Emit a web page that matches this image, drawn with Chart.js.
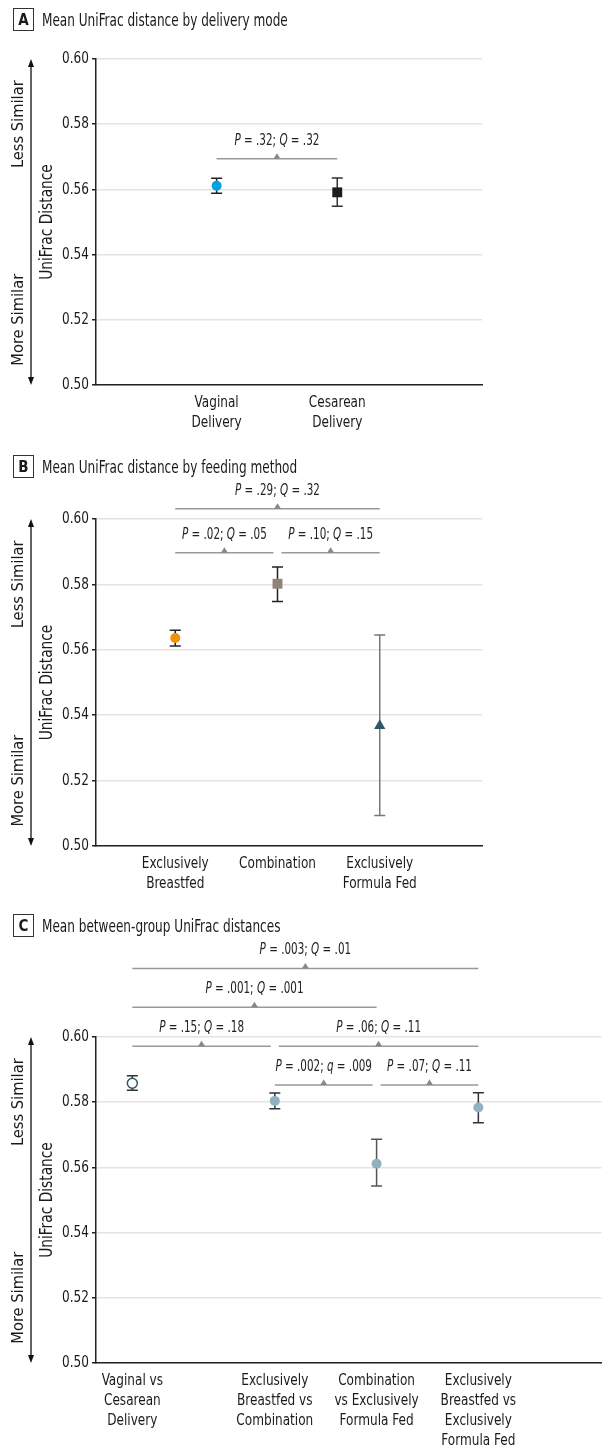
<!DOCTYPE html>
<html>
<head>
<meta charset="utf-8">
<script src="https://cdn.jsdelivr.net/npm/chart.js@4.4.0/dist/chart.umd.min.js"></script>
<style>
  body { margin: 0; background: #fff; width: 608px; height: 1449px; position: relative; overflow: hidden;
         font-family: "Liberation Sans Narrow", "DejaVu Sans Condensed", sans-serif; color: #1a1a1a; }
  canvas { position: absolute; left: 0; }
  .head { position: absolute; left: 13px; display: flex; align-items: center; z-index: 2; }
  .tag { width: 21px; height: 23px; box-sizing: border-box; border: 1px solid #333; font-weight: bold;
         font-size: 15px; display: flex; align-items: center; justify-content: center; font-family: "DejaVu Sans Condensed", sans-serif; }
  .title { margin-left: 8px; font-size: 17px; white-space: nowrap; transform: scaleX(0.79); transform-origin: left center; }
</style>
</head>
<body>
<div class="head" style="top:8px"><div class="tag">A</div><div class="title">Mean UniFrac distance by delivery mode</div></div>
<div class="head" style="top:455px"><div class="tag">B</div><div class="title">Mean UniFrac distance by feeding method</div></div>
<div class="head" style="top:914px"><div class="tag">C</div><div class="title">Mean between-group UniFrac distances</div></div>
<canvas id="chartA" width="608" height="450" style="top:0"></canvas>
<canvas id="chartB" width="608" height="450" style="top:450px"></canvas>
<canvas id="chartC" width="608" height="549" style="top:900px"></canvas>
<script>
const FONT = '"Liberation Sans Narrow", "DejaVu Sans Condensed", sans-serif';

const yTicks = [0.50, 0.52, 0.54, 0.56, 0.58, 0.60];

// A - delivery mode
const catsA = [['Vaginal', 'Delivery'], ['Cesarean', 'Delivery']];
const slotsA = [1, 2];
const meanA = [0.5611, 0.5591];
const lowA = [0.5588, 0.5548];
const highA = [0.5634, 0.5635];
const bracketsA = [[0, 1, 0.5694, 'P = .32; Q = .32']];

// B - feeding method
const catsB = [['Exclusively', 'Breastfed'], 'Combination', ['Exclusively', 'Formula Fed']];
const slotsB = [1, 2, 3];
const meanB = [0.5636, 0.5802, 0.5368];
const lowB = [0.5612, 0.5748, 0.5093];
const highB = [0.5660, 0.5853, 0.5645];
const bracketsB = [
  [0, 2, 0.6031, 'P = .29; Q = .32'],
  [0, 1, 0.5897, 'P = .02; Q = .05'],
  [1, 2, 0.5897, 'P = .10; Q = .15']
];

// C - between-group distances
const catsC = [
  ['Vaginal vs', 'Cesarean', 'Delivery'],
  ['Exclusively', 'Breastfed vs', 'Combination'],
  ['Combination', 'vs Exclusively', 'Formula Fed'],
  ['Exclusively', 'Breastfed vs', 'Exclusively', 'Formula Fed']
];
const slotsC = [0.6, 2, 3, 4];
const meanC = [0.5858, 0.5804, 0.5611, 0.5784];
const lowC = [0.5837, 0.5780, 0.5543, 0.5737];
const highC = [0.5881, 0.5828, 0.5686, 0.5829];
const bracketsC = [
  [0, 3, 0.6210, 'P = .003; Q = .01'],
  [0, 2, 0.6091, 'P = .001; Q = .001'],
  [0, 1, 0.5972, 'P = .15; Q = .18'],
  [1, 3, 0.5972, 'P = .06; Q = .11'],
  [1, 2, 0.5853, 'P = .002; q = .009'],
  [2, 3, 0.5853, 'P = .07; Q = .11']
];

// narrow text: the source uses a condensed face, so squeeze horizontally
function squeezed(ctx, text, x, y, font, align, sx) {
  ctx.save();
  ctx.font = font;
  ctx.textAlign = align;
  ctx.textBaseline = 'middle';
  ctx.translate(x, y);
  ctx.scale(sx, 1);
  ctx.fillText(text, 0, 0);
  ctx.restore();
}

function makeDecor(cfg) {
  return {
    id: 'decor',
    beforeDatasetsDraw(chart) {
      const { ctx, scales: { x, y } } = chart;
      ctx.save();
      ctx.lineWidth = 1.5;
      cfg.slots.forEach((s, i) => {
        const px = x.getPixelForValue(s);
        const y1 = y.getPixelForValue(cfg.low[i]);
        const y2 = y.getPixelForValue(cfg.high[i]);
        ctx.strokeStyle = cfg.errColor[i];
        ctx.beginPath();
        ctx.moveTo(px, y1); ctx.lineTo(px, y2);
        ctx.moveTo(px - 5.5, y1); ctx.lineTo(px + 5.5, y1);
        ctx.moveTo(px - 5.5, y2); ctx.lineTo(px + 5.5, y2);
        ctx.stroke();
      });
      ctx.restore();
    },
    afterDraw(chart) {
      const { ctx, chartArea: { top, bottom, left }, scales: { x, y } } = chart;
      ctx.save();

      // tick labels
      ctx.fillStyle = '#1a1a1a';
      y.ticks.forEach((t, i) => {
        squeezed(ctx, t.label, left - 7, y.getPixelForTick(i), '16px ' + FONT, 'right', 0.84);
      });
      x.ticks.forEach((t, i) => {
        const px = x.getPixelForTick(i);
        [].concat(t.label).forEach((ln, k) => {
          squeezed(ctx, ln, px, bottom + 18 + 20 * k, '16px ' + FONT, 'center', 0.84);
        });
      });

      // significance brackets
      cfg.brackets.forEach(br => {
        const [i, j, lvl, label] = br;
        const ly = y.getPixelForValue(lvl);
        const shared = k => cfg.brackets.some(b => b !== br && b[2] === lvl && (b[0] === k || b[1] === k));
        let xa = x.getPixelForValue(cfg.slots[i]);
        let xb = x.getPixelForValue(cfg.slots[j]);
        if (shared(i)) xa += 4;
        if (shared(j)) xb -= 4;
        const cx = (xa + xb) / 2;
        ctx.strokeStyle = '#999';
        ctx.lineWidth = 1.5;
        ctx.beginPath(); ctx.moveTo(xa, ly); ctx.lineTo(xb, ly); ctx.stroke();
        ctx.fillStyle = '#888';
        ctx.beginPath(); ctx.moveTo(cx - 3.5, ly); ctx.lineTo(cx + 3.5, ly); ctx.lineTo(cx, ly - 5.5); ctx.closePath(); ctx.fill();

        // P / Q letters in italics
        const sx = 0.77;
        const parts = label.split(/([PQq])(?= =)/).filter(p => p !== '');
        const fontOf = p => (/^[PQq]$/.test(p) ? 'italic ' : '') + '15px ' + FONT;
        let total = 0;
        parts.forEach(p => { ctx.font = fontOf(p); total += ctx.measureText(p).width * sx; });
        let tx = cx - total / 2;
        ctx.fillStyle = '#222';
        parts.forEach(p => {
          squeezed(ctx, p, tx, ly - 18, fontOf(p), 'left', sx);
          ctx.font = fontOf(p);
          tx += ctx.measureText(p).width * sx;
        });
      });

      // left side: similarity arrow and axis titles
      const h = bottom - top;
      ctx.strokeStyle = '#111';
      ctx.fillStyle = '#111';
      ctx.lineWidth = 1.3;
      ctx.beginPath(); ctx.moveTo(31, top + 6); ctx.lineTo(31, bottom - 6); ctx.stroke();
      ctx.beginPath(); ctx.moveTo(31, top); ctx.lineTo(34, top + 8); ctx.lineTo(28, top + 8); ctx.closePath(); ctx.fill();
      ctx.beginPath(); ctx.moveTo(31, bottom); ctx.lineTo(34, bottom - 8); ctx.lineTo(28, bottom - 8); ctx.closePath(); ctx.fill();

      ctx.fillStyle = '#1a1a1a';
      ctx.textAlign = 'center';
      ctx.textBaseline = 'middle';
      const vtext = (t, px, py, size, sx) => {
        ctx.save(); ctx.translate(px, py); ctx.rotate(-Math.PI / 2); ctx.scale(sx, 1);
        ctx.font = size + 'px ' + FONT; ctx.fillText(t, 0, 0); ctx.restore();
      };
      vtext('Less Similar', 19, top + 0.2 * h, 16, 1.02);
      vtext('More Similar', 19, bottom - 0.2 * h, 16, 1.02);
      vtext('UniFrac Distance', 48, (top + bottom) / 2, 17, 0.9);
      ctx.restore();
    }
  };
}

function makeChart(id, cfg) {
  return new Chart(document.getElementById(id), {
    type: 'scatter',
    data: {
      datasets: [{
        data: cfg.slots.map((s, i) => ({ x: s, y: cfg.mean[i] })),
        pointStyle: cfg.styles,
        pointRadius: cfg.radius,
        pointHoverRadius: cfg.radius,
        pointBackgroundColor: cfg.fill,
        pointBorderColor: cfg.stroke,
        pointBorderWidth: cfg.bw
      }]
    },
    options: {
      responsive: false,
      animation: false,
      events: [],
      layout: { padding: { top: cfg.top, right: cfg.right, left: 0, bottom: 0 } },
      plugins: { legend: { display: false }, tooltip: { enabled: false } },
      scales: {
        x: {
          type: 'linear',
          min: cfg.xmin,
          max: cfg.xmax,
          afterBuildTicks: s => { s.ticks = cfg.slots.map(v => ({ value: v })); },
          afterFit: s => { s.height = cfg.xh; },
          grid: { display: false, drawTicks: false },
          border: { display: true, color: '#222', width: 1.5 },
          ticks: { display: false, autoSkip: false, callback: (v, i) => cfg.cats[i] }
        },
        y: {
          min: 0.5,
          max: 0.6,
          afterBuildTicks: s => { s.ticks = yTicks.map(v => ({ value: v })); },
          afterFit: s => { s.width = 96; },
          grid: { color: '#e3e3e3', lineWidth: 1.5, tickLength: 4, tickColor: '#222' },
          border: { color: '#222', width: 1.5 },
          ticks: { display: false, callback: v => v.toFixed(2) }
        }
      }
    },
    plugins: [makeDecor(cfg)]
  });
}

makeChart('chartA', {
  cats: catsA, slots: slotsA, mean: meanA, low: lowA, high: highA, brackets: bracketsA,
  xmin: 0, xmax: 3.2, top: 59, right: 126, xh: 65,
  styles: ['circle', 'rect'], radius: [5, 7],
  fill: ['#00a3e0', '#1c1c1c'], stroke: ['#00a3e0', '#1c1c1c'], bw: [0, 0],
  errColor: ['#222', '#333']
});

makeChart('chartB', {
  cats: catsB, slots: slotsB, mean: meanB, low: lowB, high: highB, brackets: bracketsB,
  xmin: 0.225, xmax: 4.0, top: 69, right: 126, xh: 54,
  styles: ['circle', 'rect', 'triangle'], radius: [5, 7, 6.5],
  fill: ['#f39200', '#8f8577', '#2c5866'], stroke: ['#f39200', '#8f8577', '#2c5866'], bw: [0, 0, 0],
  errColor: ['#222', '#222', '#777']
});

makeChart('chartC', {
  cats: catsC, slots: slotsC, mean: meanC, low: lowC, high: highC, brackets: bracketsC,
  xmin: 0.243, xmax: 5.21, top: 137, right: 0, xh: 86,
  styles: ['circle', 'circle', 'circle', 'circle'], radius: [5, 5, 5, 5],
  fill: ['#ffffff', '#8fb1c0', '#8fb1c0', '#8fb1c0'], stroke: ['#2c5866', '#8fb1c0', '#8fb1c0', '#8fb1c0'], bw: [1.5, 0, 0, 0],
  errColor: ['#333', '#333', '#555', '#333']
});
</script>
</body>
</html>
